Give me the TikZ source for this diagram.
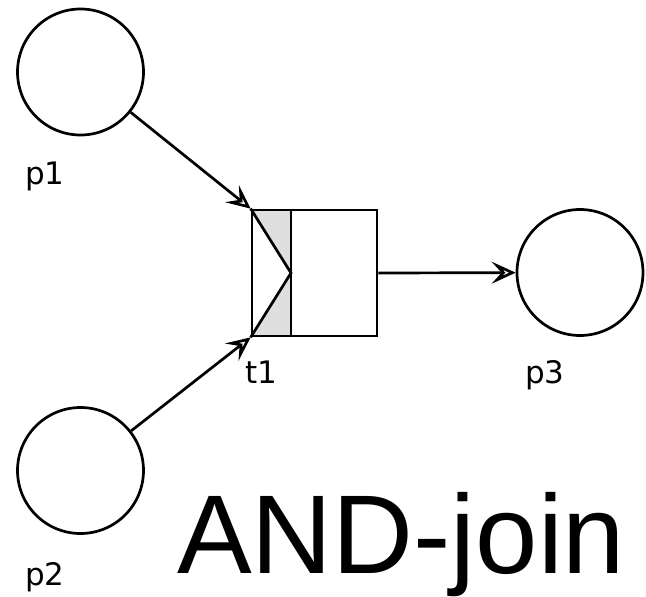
\documentclass[tikz,border=0pt]{standalone}
\usepackage{fontspec}
\setmainfont{Liberation Sans}
\newfontfamily\lblfont{DejaVu Sans}
\usetikzlibrary{arrows.meta}
\begin{document}
\begin{tikzpicture}[x=1pt,y=-1pt,
  place/.style={circle,draw,line width=2.7pt,minimum size=126pt,inner sep=0pt},
  lbl/.style={anchor=base west,inner sep=0pt,font=\lblfont\fontsize{31}{31}\selectfont},
  conn/.style={draw,line width=2.7pt,-{Stealth[open,length=24pt,width=22pt,inset=10pt,line width=2.7pt]}},
  tbox/.style={draw,line width=2.7pt,minimum width=125pt,minimum height=126pt,inner sep=0pt}]
\useasboundingbox (0,0) rectangle (646,597);
\node[place] (p1) at (80.5,72) {};
\node[place] (p2) at (80.5,470.5) {};
\node[place] (p3) at (580,272.5) {};
\node[tbox] (t1) at (314.5,273) {};
\coordinate (dtop) at (291,210);
\coordinate (dbot) at (291,336);
\coordinate (dmid) at (291,273);
\fill[gray!25] (t1.north west) -- (dtop) -- (dbot) -- (t1.south west) -- (dmid) -- cycle;
\draw[line width=2.7pt] (t1.north west) -- (dmid) -- (t1.south west);
\draw[line width=2.7pt] (dtop) -- (dbot);
\node[tbox] at (t1) {};
\draw[conn] (p1) -- (t1.north west);
\draw[conn] (p2) -- (t1.south west);
\draw[conn] (t1.east) -- (p3);
\node[lbl] (l1) at (25,184) {p1};
\node[lbl] (l2) at (25,585) {p2};
\node[lbl] (lt) at (245,383) {t1};
\node[lbl] (l3) at (525,383) {p3};
\node[anchor=base west,inner sep=0pt,font=\fontsize{112}{112}\selectfont] (title) at (177,573) {AND-join};
\end{tikzpicture}
\end{document}
